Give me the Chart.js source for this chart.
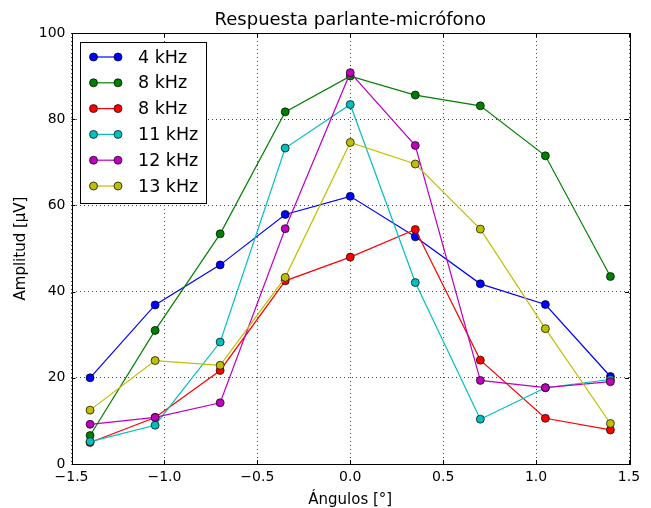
<!DOCTYPE html>
<html>
<head>
<meta charset="utf-8">
<script src="https://cdn.jsdelivr.net/npm/chart.js@4"></script>
<style>
html,body{margin:0;padding:0;background:#fff;}
#wrap{width:651px;height:508px;}
</style>
</head>
<body>
<div id="wrap"><canvas id="c" width="651" height="508"></canvas></div>
<script>
const chartTitle = "Respuesta parlante-micrófono";
const xLabel = "Ángulos [°]";
const yLabel = "Amplitud [μV]";
const angles = [-1.4, -1.05, -0.7, -0.35, 0, 0.35, 0.7, 1.05, 1.4];
const seriesNames = ["4 kHz", "8 kHz", "8 kHz", "11 kHz", "12 kHz", "13 kHz"];
const s4k  = [20.0, 36.9, 46.2, 57.9, 62.1, 52.7, 41.8, 37.0, 20.3];
const s8kA = [6.6, 31.0, 53.4, 81.7, 90.0, 85.6, 83.1, 71.5, 43.5];
const s8kB = [5.0, 10.8, 21.7, 42.5, 48.0, 54.4, 24.1, 10.6, 7.9];
const s11k = [5.2, 9.0, 28.3, 73.3, 83.4, 42.1, 10.4, 17.7, 19.6];
const s12k = [9.2, 10.8, 14.2, 54.6, 90.8, 73.9, 19.4, 17.7, 19.1];
const s13k = [12.5, 24.0, 22.9, 43.3, 74.6, 69.6, 54.5, 31.4, 9.4];
const xTicks = [-1.5, -1.0, -0.5, 0.0, 0.5, 1.0, 1.5];
const yTicks = [0, 20, 40, 60, 80, 100];

const seriesValues = [s4k, s8kA, s8kB, s11k, s12k, s13k];
const colors = ['#0000ff', '#008000', '#ff0000', '#00bfbf', '#bf00bf', '#bfbf00'];
const FONT = "DejaVu Sans";

const datasets = seriesValues.map((vals, i) => ({
  label: seriesNames[i],
  data: angles.map((a, j) => ({x: a, y: vals[j]})),
  borderColor: colors[i],
  backgroundColor: colors[i],
  borderWidth: 1.2,
  pointRadius: 4,
  pointHoverRadius: 4,
  pointBorderColor: '#000',
  pointBorderWidth: 0.7,
  pointBackgroundColor: colors[i],
  tension: 0,
  order: -i
}));

function fmtX(v){
  const s = Number(v).toFixed(1);
  return s.replace('-', '\u2212');
}

const framePlugin = {
  id: 'frame',
  afterDatasetsDraw(chart){
    const ctx = chart.ctx;
    const a = chart.chartArea;
    const xs = chart.scales.x, ys = chart.scales.y;
    ctx.save();
    ctx.strokeStyle = '#000';
    ctx.lineWidth = 1;
    ctx.beginPath();
    const tl = 4;
    xTicks.forEach(t => {
      const px = Math.round(xs.getPixelForValue(t)) + 0.5;
      ctx.moveTo(px, a.bottom); ctx.lineTo(px, a.bottom - tl);
      ctx.moveTo(px, a.top); ctx.lineTo(px, a.top + tl);
    });
    yTicks.forEach(t => {
      const py = Math.round(ys.getPixelForValue(t)) + 0.5;
      ctx.moveTo(a.left, py); ctx.lineTo(a.left + tl, py);
      ctx.moveTo(a.right, py); ctx.lineTo(a.right - tl, py);
    });
    ctx.stroke();
    ctx.strokeRect(Math.round(a.left) + 0.5, Math.round(a.top) + 0.5,
                   Math.round(a.right - a.left), Math.round(a.bottom - a.top));
    // legend
    const lx = 80.5, ly = 42.5, lw = 126, lh = 161;
    ctx.fillStyle = '#fff';
    ctx.fillRect(lx, ly, lw, lh);
    ctx.strokeRect(lx, ly, lw, lh);
    ctx.font = '17.5px "' + FONT + '"';
    ctx.textBaseline = 'middle';
    ctx.textAlign = 'left';
    chart.data.datasets.forEach((ds, i) => {
      const cy = 57 + i * 25.8;
      ctx.strokeStyle = ds.borderColor;
      ctx.lineWidth = 1.2;
      ctx.beginPath();
      ctx.moveTo(93.5, cy); ctx.lineTo(118, cy);
      ctx.stroke();
      [93.5, 118].forEach(mx => {
        ctx.beginPath();
        ctx.arc(mx, cy, 4, 0, Math.PI * 2);
        ctx.fillStyle = ds.borderColor;
        ctx.fill();
        ctx.lineWidth = 0.7;
        ctx.strokeStyle = '#000';
        ctx.stroke();
      });
      ctx.fillStyle = '#000';
      ctx.fillText(ds.label, 138, cy + 1);
    });
    ctx.restore();
  }
};

new Chart(document.getElementById('c'), {
  type: 'line',
  data: { datasets },
  plugins: [framePlugin],
  options: {
    responsive: false,
    animation: false,
    events: [],
    layout: { padding: { left: 0, right: 22, top: 0, bottom: 0 } },
    plugins: {
      legend: { display: false },
      tooltip: { enabled: false },
      title: {
        display: true,
        fullSize: false,
        text: chartTitle,
        color: '#000',
        font: { family: FONT, size: 18, weight: 'normal', lineHeight: 1.2 },
        padding: { top: 10, bottom: 1.4 }
      }
    },
    scales: {
      x: {
        type: 'linear',
        min: -1.5, max: 1.5,
        afterFit(s){ s.height = 44; },
        afterBuildTicks(s){ s.ticks = xTicks.map(v => ({value: v})); },
        ticks: {
          color: '#000',
          font: { family: FONT, size: 14 },
          padding: 5,
          maxRotation: 0,
          autoSkip: false,
          callback: (v) => fmtX(v)
        },
        grid: {
          color: '#444',
          lineWidth: 1,
          drawTicks: false,
          tickLength: 0
        },
        border: { display: false, dash: [1, 3] },
        title: {
          display: true,
          text: xLabel,
          color: '#000',
          font: { family: FONT, size: 15, lineHeight: 1 },
          padding: { top: -1, bottom: 0 }
        }
      },
      y: {
        type: 'linear',
        min: 0, max: 100,
        afterFit(s){ s.width = 71.5; },
        afterBuildTicks(s){ s.ticks = yTicks.map(v => ({value: v})); },
        ticks: {
          color: '#000',
          font: { family: FONT, size: 14 },
          padding: 6,
          autoSkip: false,
          callback: (v) => String(v)
        },
        grid: {
          color: '#444',
          lineWidth: 1,
          drawTicks: false,
          tickLength: 0
        },
        border: { display: false, dash: [1, 3] },
        title: {
          display: true,
          text: yLabel,
          color: '#000',
          font: { family: FONT, size: 15, lineHeight: 1 },
          padding: { top: 14, bottom: 0 }
        }
      }
    }
  }
});
</script>
</body>
</html>
